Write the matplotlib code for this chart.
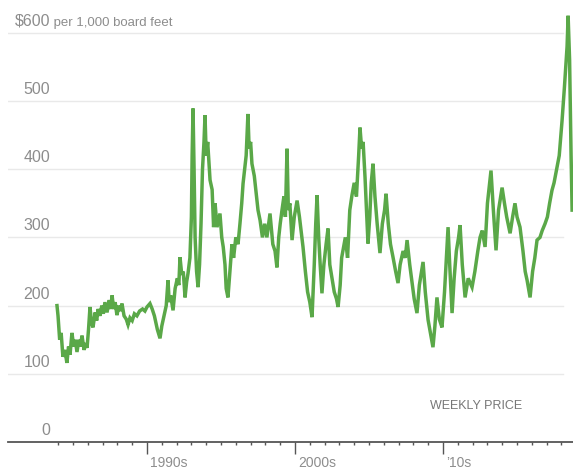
import matplotlib
matplotlib.use("Agg")
import matplotlib.pyplot as plt

plt.rcParams['font.family'] = ['Liberation Sans', 'DejaVu Sans']

# ---- data ----
dates = [
    1983.92, 1983.99, 1984.10, 1984.20, 1984.32, 1984.45, 1984.59, 1984.70, 1984.80, 1984.93,
    1985.05, 1985.15, 1985.27, 1985.40, 1985.50, 1985.61, 1985.75, 1985.85, 1985.95, 1986.05,
    1986.15, 1986.25, 1986.35, 1986.50, 1986.60, 1986.70, 1986.82, 1986.95, 1987.05, 1987.16,
    1987.30, 1987.45, 1987.55, 1987.64, 1987.75, 1987.85, 1987.97, 1988.10, 1988.20, 1988.31,
    1988.45, 1988.60, 1988.72, 1988.85, 1989.00, 1989.15, 1989.32, 1989.50, 1989.70, 1989.86,
    1990.00, 1990.20, 1990.35, 1990.50, 1990.70, 1990.88, 1991.00, 1991.15, 1991.30, 1991.42,
    1991.50, 1991.60, 1991.76, 1991.90, 1992.05, 1992.15, 1992.23, 1992.35, 1992.45, 1992.57,
    1992.68, 1992.77, 1992.90, 1993.00, 1993.05, 1993.11, 1993.18, 1993.25, 1993.35, 1993.45,
    1993.55, 1993.65, 1993.75, 1993.85, 1993.92, 1994.00, 1994.10, 1994.26, 1994.40, 1994.50,
    1994.60, 1994.73, 1994.93, 1995.05, 1995.15, 1995.27, 1995.35, 1995.47, 1995.60, 1995.74,
    1995.85, 1996.00, 1996.15, 1996.28, 1996.40, 1996.49, 1996.60, 1996.70, 1996.82, 1996.90,
    1997.00, 1997.09, 1997.25, 1997.40, 1997.50, 1997.64, 1997.80, 1997.95, 1998.10, 1998.31,
    1998.50, 1998.65, 1998.78, 1998.90, 1999.00, 1999.12, 1999.25, 1999.35, 1999.46, 1999.55,
    1999.65, 1999.80, 1999.95, 2000.14, 2000.30, 2000.54, 2000.70, 2000.85, 2001.00, 2001.15,
    2001.30, 2001.40, 2001.49, 2001.60, 2001.70, 2001.82, 2001.95, 2002.10, 2002.23, 2002.35,
    2002.50, 2002.65, 2002.80, 2002.91, 2003.05, 2003.15, 2003.24, 2003.40, 2003.55, 2003.70,
    2003.85, 2004.00, 2004.15, 2004.30, 2004.39, 2004.50, 2004.60, 2004.73, 2004.85, 2004.93,
    2005.05, 2005.15, 2005.27, 2005.40, 2005.55, 2005.74, 2005.90, 2006.05, 2006.15, 2006.30,
    2006.45, 2006.62, 2006.80, 2006.96, 2007.10, 2007.30, 2007.45, 2007.57, 2007.75, 2007.91,
    2008.05, 2008.24, 2008.40, 2008.55, 2008.65, 2008.80, 2008.99, 2009.15, 2009.32, 2009.45,
    2009.59, 2009.75, 2009.93, 2010.10, 2010.25, 2010.34, 2010.45, 2010.61, 2010.75, 2010.90,
    2011.05, 2011.15, 2011.30, 2011.49, 2011.70, 2011.96, 2012.15, 2012.35, 2012.50, 2012.65,
    2012.84, 2013.00, 2013.15, 2013.24, 2013.40, 2013.58, 2013.75, 2013.99, 2014.15, 2014.30,
    2014.53, 2014.70, 2014.86, 2015.00, 2015.20, 2015.40, 2015.55, 2015.68, 2015.88, 2016.05,
    2016.20, 2016.35, 2016.55, 2016.70, 2016.89, 2017.05, 2017.20, 2017.36, 2017.50, 2017.70,
    2017.85, 2018.04, 2018.20, 2018.38, 2018.45, 2018.55, 2018.65, 2018.72,
]
prices = [
    200, 185, 150, 160, 125, 135, 116, 140, 128, 160,
    140, 150, 132, 150, 140, 156, 135, 145, 138, 165,
    198, 175, 168, 190, 178, 195, 185, 200, 188, 205,
    190, 208, 195, 215, 195, 205, 186, 200, 192, 203,
    185, 180, 172, 182, 178, 188, 185, 192, 195, 192,
    198, 203, 195, 185, 165, 152, 170, 185, 200, 237,
    205, 215, 193, 225, 240, 230, 271, 245, 250, 212,
    235, 247, 270, 330, 420, 489, 400, 300, 250, 227,
    260, 320, 400, 440, 479, 420, 440, 384, 370, 315,
    350, 315, 335, 300, 286, 260, 225, 212, 250, 290,
    270, 300, 290, 320, 350, 379, 400, 420, 481, 430,
    440, 408, 390, 360, 340, 325, 300, 320, 300, 335,
    290, 280, 256, 300, 320, 340, 360, 330, 430, 340,
    350, 296, 330, 354, 330, 286, 250, 220, 205, 183,
    260, 320, 362, 300, 260, 218, 260, 290, 313, 260,
    240, 220, 210, 198, 230, 270, 281, 300, 270, 340,
    362, 380, 360, 420, 461, 430, 440, 388, 330, 291,
    330, 380, 408, 360, 320, 277, 320, 340, 364, 320,
    290, 271, 250, 233, 260, 280, 270, 296, 260, 233,
    210, 189, 230, 250, 264, 220, 179, 160, 139, 170,
    212, 180, 168, 220, 280, 315, 260, 189, 240, 280,
    300, 318, 260, 212, 240, 227, 250, 280, 300, 310,
    286, 350, 380, 398, 340, 281, 340, 373, 350, 330,
    306, 330, 350, 330, 315, 280, 250, 237, 212, 250,
    270, 296, 300, 310, 320, 330, 350, 369, 380, 403,
    420, 471, 520, 580, 625, 560, 420, 340,
]

ytick_values = [100, 200, 300, 400, 500, 600]
ytick_labels = ["100", "200", "300", "400", "500", "\\$600"]
unit_text = " per 1,000 board feet"
major_years = [1990, 2000, 2010]
major_labels = ["1990s", "2000s", "\u201910s"]
minor_years = [y for y in range(1984, 2019) if y not in (1990, 2000, 2010)]
note_text = "WEEKLY PRICE"

# ---- layout ----
W, H = 573, 476
fig = plt.figure(figsize=(W / 100, H / 100), dpi=100)
ax_left, ax_right = 8, 573
ax_bottom, ax_top = 442, 5.5
ax = fig.add_axes([ax_left / W, 1 - ax_bottom / H,
                   (ax_right - ax_left) / W, (ax_bottom - ax_top) / H])
ax.set_xlim(1980.61, 2018.78)
ax.set_ylim(0, 640)

for s in ("top", "right", "left"):
    ax.spines[s].set_visible(False)
ax.spines["bottom"].set_color("#555555")
ax.spines["bottom"].set_linewidth(1.3)

label_color = "#8d8d8d"
grid_xmax = (563 - ax_left) / (ax_right - ax_left)
for v in ytick_values:
    ax.axhline(v, xmin=0, xmax=grid_xmax, color="#e9e9e9", lw=1.0, zorder=1)

ax.set_yticks([])
label_x = (50 - ax_left) / (ax_right - ax_left)
for v, t in zip([0] + ytick_values, ["0"] + ytick_labels):
    ax.annotate(t, xy=(label_x, v), xycoords=("axes fraction", "data"),
                xytext=(0, 4), textcoords="offset pixels",
                ha="right", va="bottom", fontsize=11.5, color=label_color)
ax.annotate(unit_text, xy=(label_x, ytick_values[-1]), xycoords=("axes fraction", "data"),
            xytext=(0, 4), textcoords="offset pixels",
            ha="left", va="bottom", fontsize=9.5, color=label_color)

ax.plot(dates, prices, color="#5aa848", lw=2.5, solid_joinstyle="miter", zorder=3)

ax.set_xticks(major_years)
ax.set_xticklabels([])
ax.set_xticks(minor_years, minor=True)
ax.tick_params(axis="x", which="major", direction="out", length=8.5, width=1.0, color="#555555")
ax.tick_params(axis="x", which="minor", direction="out", length=2.5, width=1.0, color="#555555")
for yr, t in zip(major_years, major_labels):
    ax.annotate(t, xy=(yr, 0), xycoords="data", xytext=(3, -14),
                textcoords="offset pixels", ha="left", va="top",
                fontsize=10, color=label_color)

ax.text(522 / W, 1 - 406 / H, note_text, transform=fig.transFigure,
        ha="right", va="center", fontsize=9, color="#777777")

fig.savefig("out.png", dpi=100)
